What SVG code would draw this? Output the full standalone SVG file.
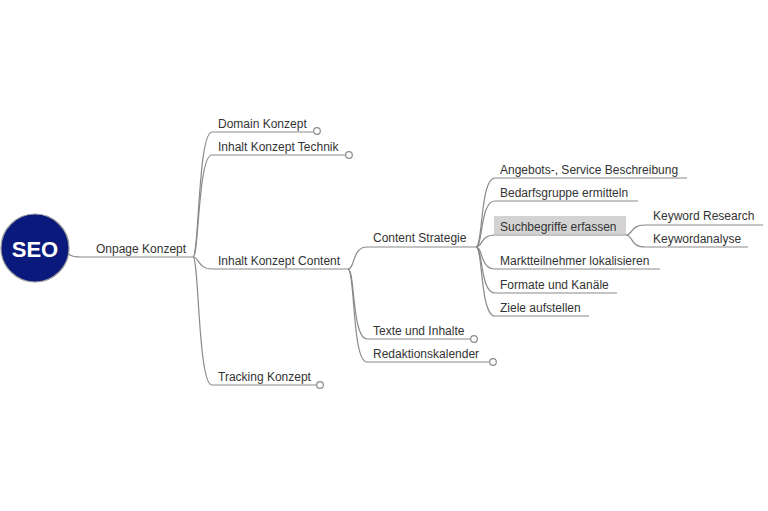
<svg xmlns="http://www.w3.org/2000/svg" width="768" height="511" viewBox="0 0 768 511">
<style>
.c{fill:none;stroke:#8a8a8a;stroke-width:1.2}
.t{font-family:"Liberation Sans",Arial,sans-serif;font-size:12px;fill:#333}
.e{fill:#fff;stroke:#8a8a8a;stroke-width:1.2}
</style>
<rect width="768" height="511" fill="#fff"/>
<g id="connectors">
<path class="c" d="M67,253 C72,257 76,257 82,257 L193,257"/>
<path class="c" d="M193,257 C199,257 198,132 212,132 L313,132"/>
<path class="c" d="M193,257 C199,257 198,155 212,155 L346,155"/>
<path class="c" d="M193,257 C199,257 198,269 212,269 L348,269"/>
<path class="c" d="M193,257 C199,257 198,385 212,385 L317,385"/>
<path class="c" d="M348,269 C355,269 352,247 367,247 L476,247"/>
<path class="c" d="M348,269 C355,269 352,339 367,339 L471,339"/>
<path class="c" d="M348,269 C355,269 352,362 367,362 L490,362"/>
<path class="c" d="M476,247 C483,247 480,178 495,178 L687,178"/>
<path class="c" d="M476,247 C483,247 480,201 495,201 L638,201"/>
<path class="c" d="M476,247 C483,247 480,235 495,235 L626,235"/>
<path class="c" d="M476,247 C483,247 480,269 495,269 L660,269"/>
<path class="c" d="M476,247 C483,247 480,293 495,293 L617,293"/>
<path class="c" d="M476,247 C483,247 480,316 495,316 L589,316"/>
<path class="c" d="M626,235 C633,235 630,225 645,225 L763,225"/>
<path class="c" d="M626,235 C633,235 630,247 645,247 L748,247"/>
</g>
<g id="seo">
<circle cx="35" cy="248" r="34" fill="#0a1a7c" stroke="#999" stroke-width="1.2"/>
<text x="35" y="257" text-anchor="middle" font-family="Liberation Sans,Arial,sans-serif" font-size="22" font-weight="bold" fill="#fff">SEO</text>
</g>
<g id="onpage"><text class="t" x="96" y="253">Onpage Konzept</text></g>
<g id="domain"><text class="t" x="218" y="128">Domain Konzept</text><circle class="e" cx="317" cy="131" r="3.3"/></g>
<g id="technik"><text class="t" x="218" y="151">Inhalt Konzept Technik</text><circle class="e" cx="349" cy="155" r="3.3"/></g>
<g id="content"><text class="t" x="218" y="265">Inhalt Konzept Content</text></g>
<g id="tracking"><text class="t" x="218" y="381">Tracking Konzept</text><circle class="e" cx="320" cy="385" r="3.3"/></g>
<g id="strategie"><text class="t" x="373" y="242">Content Strategie</text></g>
<g id="texte"><text class="t" x="373" y="335">Texte und Inhalte</text><circle class="e" cx="474" cy="339" r="3.3"/></g>
<g id="redaktion"><text class="t" x="373" y="358">Redaktionskalender</text><circle class="e" cx="493" cy="362" r="3.3"/></g>
<g id="angebot"><text class="t" x="500" y="174">Angebots-, Service Beschreibung</text></g>
<g id="bedarf"><text class="t" x="500" y="197">Bedarfsgruppe ermitteln</text></g>
<g id="such"><rect x="494" y="216" width="132" height="18" fill="#d3d3d3"/><text class="t" x="500" y="231">Suchbegriffe erfassen</text></g>
<g id="markt"><text class="t" x="500" y="265">Marktteilnehmer lokalisieren</text></g>
<g id="formate"><text class="t" x="500" y="289">Formate und Kanäle</text></g>
<g id="ziele"><text class="t" x="500" y="312">Ziele aufstellen</text></g>
<g id="kwresearch"><text class="t" x="653" y="220">Keyword Research</text></g>
<g id="kwanalyse"><text class="t" x="653" y="243">Keywordanalyse</text></g>
</svg>
